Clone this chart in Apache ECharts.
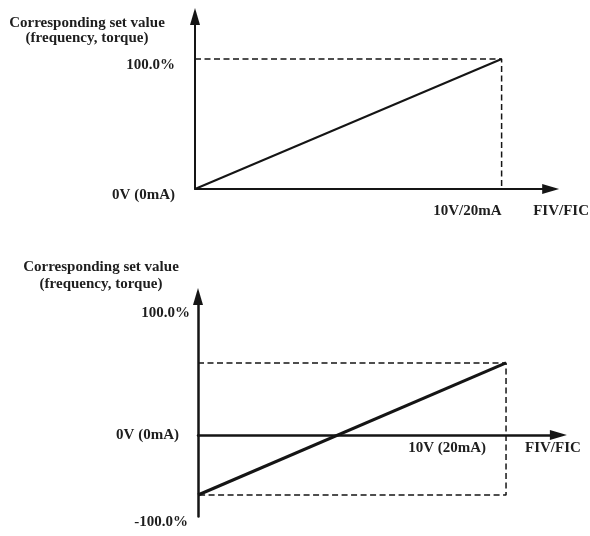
<!DOCTYPE html>
<html>
<head>
<meta charset="utf-8">
<script src="https://cdn.jsdelivr.net/npm/echarts@6/dist/echarts.min.js"></script>
<style>
	html, body {margin:0; padding:0; background:#fff;}
	#container {width:590px; height:536px;}
</style>
</head>
<body>
<div id="container"></div>
<script>
// upper chart: 0..10V maps to 0..100%
var topX = [0, 10];
var topY = [0, 100];
var topGuideX = [0, 10, 10];
var topGuideY = [100, 100, 0];
var topYTicks = [0, 100];
var topYText = ['0V (0mA)', '100.0%'];
var topXTicks = [10];
var topXText = ['10V/20mA'];

// lower chart: bias line crossing zero
var botX = [0, 10];
var botY = [-50, 60];
var botGuideX = [0, 10, 10, 0];
var botGuideY = [60, 60, -50, -50];
var botYTicks = [-68, 0, 100];
var botYText = ['-100.0%', '0V (0mA)', '100.0%'];
var botXTicks = [10];
var botXText = ['10V (20mA)'];

var yName = 'Corresponding set value\n(frequency, torque)';
var xName = 'FIV/FIC';

function pairs(xs, ys) {
	var out = [];
	for (var i = 0; i < xs.length; i++) {
		out.push([xs[i], ys[i]]);
	}
	return out;
}

var font = {fontFamily:'Liberation Serif', fontSize:15, fontWeight:'bold', color:'#1e1e1e'};
var ink = '#151515';

function txt(extra) {
	var o = {};
	for (var k in font) o[k] = font[k];
	for (var k in extra) o[k] = extra[k];
	return o;
}

var myChart = echarts.init(document.getElementById('container'));

myChart.setOption({
	animation: false,
	backgroundColor: '#FFFFFF',
	grid: [
		{left:195, right:37.7, top:16.5, bottom:347},
		{left:198, right:31.6, top:296.5, bottom:19.4}
	],
	xAxis: [
		{
			gridIndex: 0,
			type: 'value',
			min: 0,
			max: 11.6,
			splitLine: {show:false},
			axisTick: {show:false},
			axisLine: {lineStyle:{color:ink, width:2}, symbol:['none','triangle'], symbolSize:[10,17]},
			axisLabel: txt({
				customValues: topXTicks,
				formatter: function (v) { return topXText[topXTicks.indexOf(v)]; },
				align: 'right',
				margin: 15
			}),
			name: xName,
			nameLocation: 'end',
			nameGap: -17.5,
			nameTextStyle: txt({verticalAlign:'top', align:'left', padding:[15,0,0,0]})
		},
		{
			gridIndex: 1,
			type: 'value',
			min: 0,
			max: 11.7,
			splitLine: {show:false},
			axisTick: {show:false},
			axisLine: {onZero:false, lineStyle:{color:ink, width:2.5}, symbol:['none','triangle'], symbolSize:[10,17]},
			offset: -81.6,
			axisLabel: txt({
				customValues: botXTicks,
				formatter: function (v) { return botXText[botXTicks.indexOf(v)]; },
				align: 'right',
				padding: [0,20,0,0],
				margin: 6
			}),
			name: xName,
			nameLocation: 'end',
			nameGap: -33.4,
			nameTextStyle: txt({verticalAlign:'top', align:'left', padding:[6,0,0,0]})
		}
	],
	yAxis: [
		{
			gridIndex: 0,
			type: 'value',
			min: 0,
			max: 132.7,
			splitLine: {show:false},
			axisTick: {show:false},
			axisLine: {lineStyle:{color:ink, width:2}, symbol:['none','triangle'], symbolSize:[10,17]},
			axisLabel: txt({
				customValues: topYTicks,
				formatter: function (v) { return '{s|' + topYText[topYTicks.indexOf(v)] + '}'; },
				margin: 20,
				rich: {
					s: txt({padding:[12,0,0,0]})
				}
			}),
			name: yName,
			nameLocation: 'end',
			nameGap: 0.5,
			nameTextStyle: txt({verticalAlign:'top', align:'center', lineHeight:15, padding:[0,216,0,0]})
		},
		{
			gridIndex: 1,
			type: 'value',
			min: -68,
			max: 115.4,
			splitLine: {show:false},
			axisTick: {show:false},
			axisLine: {lineStyle:{color:ink, width:2.5}, symbol:['none','triangle'], symbolSize:[10,17]},
			axisLabel: txt({
				customValues: botYTicks,
				formatter: function (v) {
					var i = botYTicks.indexOf(v);
					return '{s' + i + '|' + botYText[i] + '}';
				},
				margin: 8,
				rich: {
					s0: txt({padding:[12,2,0,0]}),
					s1: txt({padding:[0,11,0,0]}),
					s2: txt({padding:[0,0,4,0]})
				}
			}),
			name: yName,
			nameLocation: 'end',
			nameGap: 37.5,
			nameTextStyle: txt({verticalAlign:'top', align:'center', lineHeight:17, padding:[0,194,0,0]})
		}
	],
	series: [
		{
			type: 'line',
			xAxisIndex: 0,
			yAxisIndex: 0,
			data: pairs(topGuideX, topGuideY),
			symbol: 'none',
			silent: true,
			lineStyle: {color:ink, width:1.5, type:[6,3.5]}
		},
		{
			type: 'line',
			xAxisIndex: 0,
			yAxisIndex: 0,
			data: pairs(topX, topY),
			symbol: 'none',
			silent: true,
			lineStyle: {color:ink, width:2}
		},
		{
			type: 'line',
			xAxisIndex: 1,
			yAxisIndex: 1,
			data: pairs(botGuideX, botGuideY),
			symbol: 'none',
			silent: true,
			lineStyle: {color:ink, width:1.5, type:[6,3.5]}
		},
		{
			type: 'line',
			xAxisIndex: 1,
			yAxisIndex: 1,
			data: pairs(botX, botY),
			symbol: 'none',
			silent: true,
			lineStyle: {color:ink, width:3}
		}
	]
});
</script>
</body>
</html>
